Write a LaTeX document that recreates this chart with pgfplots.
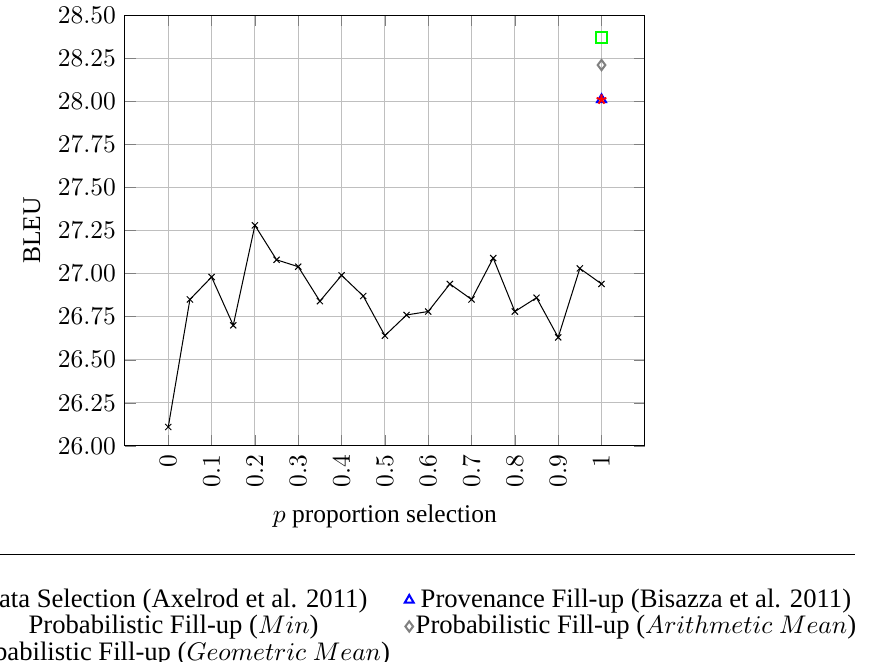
\documentclass[border=0pt]{standalone}
\usepackage{fontspec}
\setmainfont{Liberation Serif}
\usepackage{pgfplots}
\pgfplotsset{compat=1.18}

\begin{document}
\begin{tikzpicture}
\begin{axis}[
  scale only axis,
  width=203.9pt, height=169pt,
  xmin=-0.1, xmax=1.1,
  ymin=26, ymax=28.5,
  xtick={0,0.1,0.2,0.3,0.4,0.5,0.6,0.7,0.8,0.9,1},
  ytick={26,26.25,26.5,26.75,27,27.25,27.5,27.75,28,28.25,28.5},
  yticklabel style={/pgf/number format/.cd, fixed, fixed zerofill, precision=2},
  xticklabel style={rotate=90, anchor=east},
  grid=major,
  xlabel={$p$ proportion selection},
  ylabel={BLEU},
  legend columns=2,
  legend cell align=center,
  legend style={draw=none, fill=none, at={(0.499,-0.314)}, anchor=north,
    font=\fontsize{10.45}{12}\selectfont,
    nodes={inner sep=0.8pt}, /tikz/every even column/.append style={column sep=5pt}},
]
\addplot[black, mark=x, mark size=1.7pt] coordinates {
  (0,26.11) (0.05,26.85) (0.1,26.98) (0.15,26.70) (0.2,27.28) (0.25,27.08)
  (0.3,27.04) (0.35,26.84) (0.4,26.99) (0.45,26.87) (0.5,26.64) (0.55,26.76)
  (0.6,26.78) (0.65,26.94) (0.7,26.85) (0.75,27.09) (0.8,26.78) (0.85,26.86)
  (0.9,26.63) (0.95,27.03) (1,26.94)
};
\addlegendentry{Data Selection (Axelrod et al. 2011)}
\addplot[blue, only marks, mark=triangle, mark size=2pt, thick] coordinates {(1,28.01)};
\addlegendentry{Provenance Fill-up (Bisazza et al. 2011)}
\addplot[red, only marks, mark=star, mark size=2pt, thick] coordinates {(1,28.01)};
\addlegendentry{Probabilistic Fill-up ($Min$)}
\addplot[gray, only marks, mark=diamond, mark size=2pt, thick] coordinates {(1,28.21)};
\addlegendentry{Probabilistic Fill-up ($Arithmetic\ Mean$)}
\addplot[green, only marks, mark=square, mark size=2.2pt, thick] coordinates {(1,28.37)};
\addlegendentry{Probabilistic Fill-up ($Geometric\ Mean$)}
\end{axis}
\draw[line width=0.4pt] ([xshift=-60pt,yshift=-42.7pt]current axis.south west)
  -- ([xshift=286.3pt,yshift=-42.7pt]current axis.south west);
\pgfresetboundingbox
\path[use as bounding box] ([xshift=-49pt,yshift=-84.7pt]current axis.south west)
  rectangle ([xshift=292.2pt,yshift=5.9pt]current axis.north west);
\end{tikzpicture}
\end{document}
